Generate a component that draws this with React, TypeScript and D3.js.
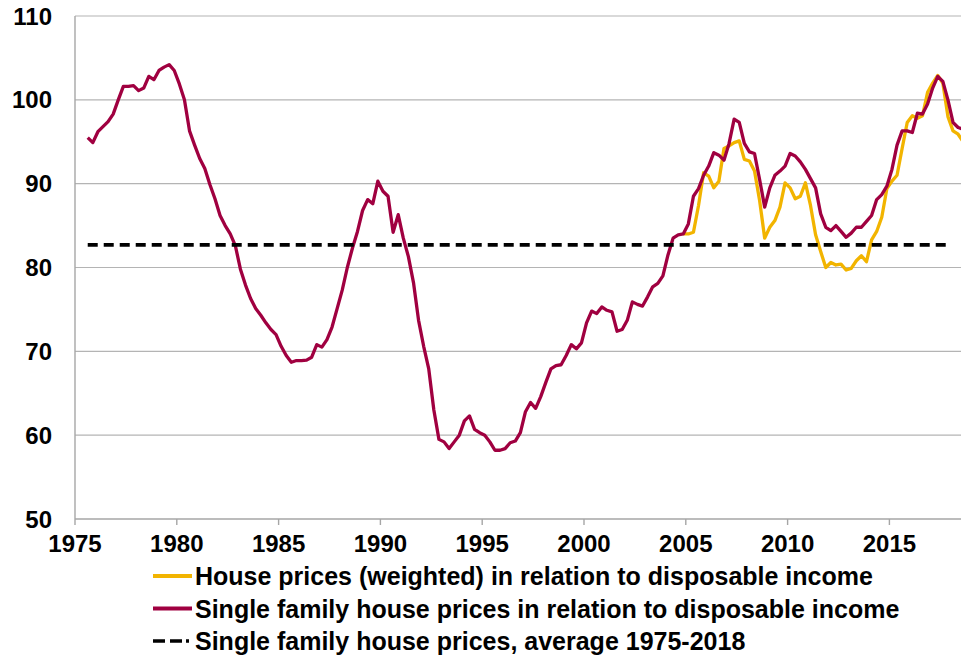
import { useEffect, useRef } from 'react';
import * as d3 from 'd3';

// Quarterly observations, first quarter centred at 1975.625
const firstQuarter = 1975.625;

// Single family house prices in relation to disposable income (index)
const singleFamily: number[] = [
    95.5, 94.9, 96.2, 96.8, 97.4, 98.3, 100.0, 101.6, 101.6, 101.7,
    101.1, 101.4, 102.8, 102.4, 103.5, 103.9, 104.2, 103.5, 101.9, 100.0,
    96.3, 94.6, 93.0, 91.8, 89.9, 88.2, 86.2, 85.0, 84.0, 82.6,
    79.8, 77.9, 76.3, 75.1, 74.3, 73.4, 72.6, 72.0, 70.6, 69.5,
    68.7, 68.9, 68.9, 68.95, 69.3, 70.8, 70.5, 71.4, 72.9, 75.1,
    77.3, 80.0, 82.3, 84.3, 86.8, 88.1, 87.6, 90.3, 89.1, 88.5,
    84.2, 86.3, 83.5, 81.3, 78.2, 73.7, 70.6, 67.9, 63.0, 59.5,
    59.2, 58.4, 59.2, 60.0, 61.7, 62.3, 60.7, 60.3, 60.0, 59.2,
    58.2, 58.2, 58.4, 59.1, 59.3, 60.3, 62.8, 63.9, 63.2, 64.6,
    66.3, 67.9, 68.3, 68.4, 69.5, 70.8, 70.3, 71.0, 73.4, 74.8,
    74.5, 75.3, 74.9, 74.7, 72.4, 72.6, 73.7, 75.9, 75.6, 75.4,
    76.5, 77.7, 78.1, 79.0, 81.5, 83.5, 83.9, 84.0, 85.2, 88.5,
    89.4, 91.0, 92.1, 93.7, 93.4, 92.8, 94.8, 97.7, 97.3, 94.8,
    93.8, 93.6, 90.5, 87.2, 89.5, 91.0, 91.5, 92.1, 93.6, 93.3,
    92.6, 91.7, 90.6, 89.5, 86.4, 84.8, 84.4, 85.0, 84.3, 83.6,
    84.1, 84.8, 84.8, 85.5, 86.2, 88.1, 88.7, 89.7, 91.7, 94.6,
    96.3, 96.3, 96.1, 98.4, 98.3, 99.5, 101.4, 102.8, 102.2, 100.0,
    97.3, 96.7, 96.5,
];

// House prices (weighted), starts at quarter index 117
const weightedStart = 117;
const weighted: number[] = [
    84.0, 84.0, 84.2, 87.4, 91.3, 90.9, 89.5, 90.3, 94.2, 94.5,
    94.9, 95.1, 92.9, 92.7, 91.5, 88.0, 83.5, 84.8, 85.6, 87.2,
    90.1, 89.5, 88.2, 88.5, 90.1, 87.4, 83.9, 81.9, 80.0, 80.6,
    80.3, 80.4, 79.7, 79.9, 80.8, 81.4, 80.7, 83.3, 84.3, 86.0,
    89.4, 90.3, 91.0, 94.2, 97.3, 98.1, 97.8, 98.1, 100.9, 102.0,
    102.9, 102.0, 98.0, 96.3, 95.9, 95.0,
];

// Average of single family prices 1975-2018, drawn over quarters 0..169
const averageLevel = 82.7;
const averageQuarters = 170;

const yTicks: number[] = [50, 60, 70, 80, 90, 100, 110];
const xTicks: number[] = [1975, 1980, 1985, 1990, 1995, 2000, 2005, 2010, 2015];

const legendItems = [
    { label: 'House prices (weighted) in relation to disposable income', color: '#F2B400', dash: '' },
    { label: 'Single family house prices in relation to disposable income', color: '#A00040', dash: '' },
    { label: 'Single family house prices, average 1975-2018', color: '#000000', dash: '12,5,12,4,3,20' },
];

interface Pt { t: number; v: number; }

export default function App() {
    const svgRef = useRef<SVGSVGElement | null>(null);

    useEffect(() => {
        if (!svgRef.current) return;
        const svg = d3.select(svgRef.current);
        svg.selectAll('*').remove();

        const width = 961;
        const left = 75, top = 16, bottom = 519;
        const font = '"Liberation Sans", Arial, sans-serif';

        // scales: 5 years = ~101.8 px, plot runs past the right edge of the picture
        const x = d3.scaleLinear().domain([1975, 2020]).range([left, left + 45 * 20.36]);
        const y = d3.scaleLinear().domain([50, 110]).range([bottom, top]);

        svg.append('defs').append('clipPath').attr('id', 'plot-clip')
            .append('rect').attr('x', left).attr('y', 0).attr('width', width - left).attr('height', bottom + 2);

        // gridlines
        svg.append('g').selectAll('line').data(yTicks.filter(d => d > 50)).join('line')
            .attr('x1', left).attr('x2', width)
            .attr('y1', d => y(d)).attr('y2', d => y(d))
            .attr('stroke', '#B4B4B4').attr('stroke-width', 1.2);

        // axes lines + x tick marks
        const axis = svg.append('g').attr('stroke', '#A6A6A6').attr('stroke-width', 1.4);
        axis.append('line').attr('x1', left).attr('x2', left).attr('y1', top).attr('y2', bottom);
        axis.append('line').attr('x1', left).attr('x2', width).attr('y1', bottom).attr('y2', bottom);
        axis.selectAll('line.tick').data(xTicks).join('line').attr('class', 'tick')
            .attr('x1', d => x(d)).attr('x2', d => x(d)).attr('y1', bottom).attr('y2', bottom + 6);

        // tick labels
        svg.append('g').selectAll('text').data(yTicks).join('text')
            .attr('x', 52).attr('y', d => y(d) + 8.5)
            .attr('text-anchor', 'end')
            .style('font', `bold 24px ${font}`).attr('fill', '#000')
            .text(d => d);
        svg.append('g').selectAll('text').data(xTicks).join('text')
            .attr('x', d => x(d)).attr('y', 552)
            .attr('text-anchor', 'middle')
            .style('font', `bold 24px ${font}`).attr('fill', '#000')
            .text(d => d);

        const line = d3.line<Pt>().x(d => x(d.t)).y(d => y(d.v));
        const plot = svg.append('g').attr('clip-path', 'url(#plot-clip)');

        const weightedPts: Pt[] = weighted.map((v, i) => ({ t: firstQuarter + (weightedStart + i) * 0.25, v }));
        const singlePts: Pt[] = singleFamily.map((v, i) => ({ t: firstQuarter + i * 0.25, v }));
        const avgPts: Pt[] = [
            { t: firstQuarter, v: averageLevel },
            { t: firstQuarter + (averageQuarters - 1) * 0.25, v: averageLevel },
        ];

        plot.append('path').datum(weightedPts).attr('d', line)
            .attr('fill', 'none').attr('stroke', legendItems[0].color)
            .attr('stroke-width', 3.3).attr('stroke-linejoin', 'round');
        plot.append('path').datum(singlePts).attr('d', line)
            .attr('fill', 'none').attr('stroke', legendItems[1].color)
            .attr('stroke-width', 3.3).attr('stroke-linejoin', 'round');
        plot.append('path').datum(avgPts).attr('d', line)
            .attr('fill', 'none').attr('stroke', '#000')
            .attr('stroke-width', 3.6).attr('stroke-dasharray', '10,6');

        // legend
        const legend = svg.append('g').selectAll('g').data(legendItems).join('g')
            .attr('transform', (_, i) => `translate(153,${576 + i * 32.5})`);
        legend.append('line')
            .attr('x1', 0).attr('x2', 39).attr('y1', 0).attr('y2', 0)
            .attr('stroke', d => d.color).attr('stroke-width', d => (d.dash ? 3.6 : 4))
            .attr('stroke-dasharray', d => d.dash || null);
        legend.append('text')
            .attr('x', 42).attr('y', 9)
            .style('font', `bold 25px ${font}`).attr('fill', '#000')
            .text(d => d.label);

        return () => { svg.selectAll('*').remove(); };
    }, []);

    return (
        <div style={{ position: 'absolute', left: 0, top: 0, background: '#fff' }}>
            <svg ref={svgRef} width={961} height={661} style={{ display: 'block' }}></svg>
        </div>
    );
}
